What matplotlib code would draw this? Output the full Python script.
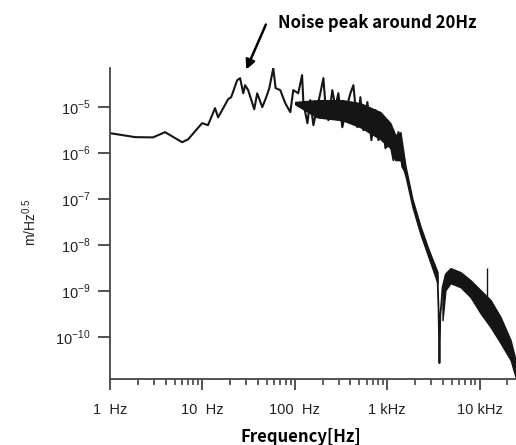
import matplotlib
matplotlib.use("Agg")
import matplotlib.pyplot as plt
from matplotlib.ticker import NullFormatter, NullLocator, LogLocator

# main trace (Hz, m/Hz^0.5)
line_freq = [1, 1.87, 2.92, 3.94, 6.03, 7.01, 9.93, 11.5, 13.7, 14.8, 19.0, 20.5,
             23.8, 25.6, 27.7, 29.0, 31.3, 36.4, 39.2, 44.5, 49.1, 53.0, 58.5, 62,
             69.7, 78.9, 89.4, 96.3, 109, 120, 124, 137, 147, 159, 175, 189, 204,
             214, 231, 255, 275, 296, 327, 352, 400, 431, 476, 513, 553, 611, 675,
             746, 804, 889, 957, 1084, 1169, 1324, 1462, 1580]
line_amp = [2.72e-6, 2.23e-6, 2.2e-6, 2.86e-6, 1.73e-6, 2.0e-6, 4.49e-6, 4.06e-6,
            9.5e-6, 6.0e-6, 1.49e-5, 1.65e-5, 3.86e-5, 4.27e-5, 2.0e-5, 3.0e-5,
            2.34e-5, 9.0e-6, 2.0e-5, 1.0e-5, 1.65e-5, 2.59e-5, 7.05e-5, 2.6e-5,
            2.34e-5, 1.22e-5, 7.8e-6, 2.34e-5, 2.01e-5, 4.97e-5, 1.22e-5, 4.49e-6,
            1.42e-5, 4.06e-6, 1.0e-5, 2.01e-5, 4.27e-5, 1.22e-5, 5.2e-6, 2.34e-5,
            1.0e-5, 2.01e-5, 3.67e-6, 7.4e-6, 2.01e-5, 3.0e-5, 3.67e-6, 1.65e-5,
            3.16e-6, 1.29e-5, 1.92e-6, 8.6e-6, 1.92e-6, 5.77e-6, 1.29e-6, 1.65e-6,
            7.05e-7, 2.86e-6, 4.97e-7, 4.0e-7]

# dense noise core and the roll-off
band_freq = [101, 175, 327, 513, 845, 1084, 1227, 1393, 1580, 1879, 2291, 2799, 3508]
band_hi = [1.3e-5, 1.42e-5, 1.42e-5, 1.22e-5, 7.8e-6, 4.49e-6, 2.46e-6, 2.86e-6,
           5.2e-7, 1e-7, 2.59e-8, 8.2e-9, 2.59e-9]
band_lo = [1.15e-5, 6.0e-6, 5.2e-6, 3.67e-6, 2.01e-6, 1.29e-6, 7.05e-7, 7.05e-7,
           3.16e-7, 6.7e-8, 1.73e-8, 5.5e-9, 1.49e-9]

# notch near 3.7 kHz
notch_freq = [3508, 3600, 3681, 3760, 3850, 3972, 4276]
notch_amp = [2.0e-9, 4e-10, 2.72e-11, 3e-10, 5e-10, 1.2e-9, 2.2e-9]

# hump after the notch
hump_freq = [3972, 4276, 4853, 6223, 7980, 10250, 13150, 16900, 21680, 24550]
hump_hi = [1.05e-9, 2.46e-9, 3.16e-9, 2.59e-9, 1.73e-9, 1.05e-9, 6.4e-10, 2.72e-10,
           8.6e-11, 3.16e-11]
hump_lo = [2.34e-10, 1.05e-9, 1.49e-9, 1.22e-9, 7.4e-10, 3.3e-10, 1.65e-10, 7.4e-11,
           3.16e-11, 1.35e-11]

spike_freq = [11910]
spike_lo = [5e-10]
spike_hi = [3.16e-9]

xticks = [1, 10, 100, 1000, 10000]
xlabels = ["1  Hz", "10  Hz", "100  Hz", "1 kHz", "10 kHz"]
yticks = [1e-10, 1e-9, 1e-8, 1e-7, 1e-6, 1e-5]
ylabels = [r"$10^{-10}$", r"$10^{-9}$", r"$10^{-8}$", r"$10^{-7}$", r"$10^{-6}$", r"$10^{-5}$"]

plt.rcParams['font.family'] = ['Liberation Sans', 'DejaVu Sans']
plt.rcParams['mathtext.fontset'] = 'custom'
plt.rcParams['mathtext.rm'] = 'Liberation Sans'

fig = plt.figure(figsize=(5.16, 4.45), dpi=100)
ax = fig.add_axes([110 / 516, 1 - 379 / 445, 1 - 110 / 516, (379 - 68) / 445])

lc = '#151515'
ax.plot(line_freq, line_amp, color=lc, lw=1.5)
ax.fill_between(band_freq, band_lo, band_hi, color=lc, lw=1.0, edgecolor=lc)
ax.plot(notch_freq, notch_amp, color=lc, lw=1.3)
ax.fill_between(hump_freq, hump_lo, hump_hi, color=lc, lw=1.0, edgecolor=lc)
ax.vlines(spike_freq, spike_lo, spike_hi, color=lc, lw=1.0)

ax.set_xscale('log')
ax.set_yscale('log')
ax.set_xlim(1, 24800)
ax.set_ylim(1.23e-11, 7.1e-5)

ax.set_xticks(xticks, xlabels)
ax.xaxis.set_minor_locator(LogLocator(base=10, subs=range(2, 10)))
ax.xaxis.set_minor_formatter(NullFormatter())
ax.set_yticks(yticks, ylabels)
ax.yaxis.set_minor_locator(NullLocator())

for s in ['top', 'right']:
    ax.spines[s].set_visible(False)
for s in ['left', 'bottom']:
    ax.spines[s].set_color('#444444')
    ax.spines[s].set_linewidth(1.3)

ax.tick_params(axis='x', which='major', direction='out', length=8, width=1.3,
               color='#444444', labelsize=10.5, labelcolor='#222222', pad=9)
ax.tick_params(axis='x', which='minor', direction='out', length=4.5, width=1.2,
               color='#444444')
ax.tick_params(axis='y', which='major', direction='out', length=9, width=1.3,
               color='#444444', labelsize=10.5, labelcolor='#222222', pad=5)

fig.text(30 / 516, 1 - 222 / 445, r"m/Hz$^{0.5}$", rotation=90, ha='center',
         va='center', fontsize=10, color='#222222')
fig.text(301 / 516, 1 - 437 / 445, "Frequency[Hz]", ha='center', va='center',
         fontsize=12, fontweight='bold', family=['Noto Sans CJK JP', 'DejaVu Sans'])

fig.text(278 / 516, 1 - 23 / 445, "Noise peak around 20Hz", ha='left', va='center',
         fontsize=12, fontweight='bold', family=['Noto Sans CJK JP', 'DejaVu Sans'])
ax.annotate("", xy=(29, 5.8e-5), xycoords='data',
            xytext=(267 / 516, 1 - 22 / 445), textcoords='figure fraction',
            arrowprops=dict(arrowstyle='-|>', color='black', lw=1.8, mutation_scale=14),
            annotation_clip=False)

fig.savefig("out.png", dpi=100)
